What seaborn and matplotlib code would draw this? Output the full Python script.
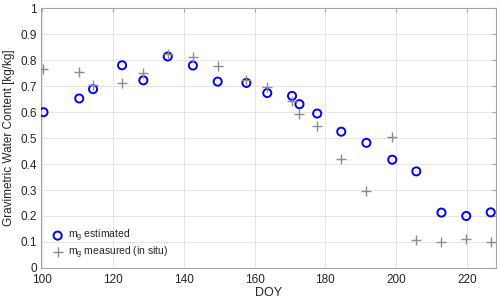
import numpy as np
import pandas as pd
import seaborn as sns
import matplotlib.pyplot as plt

# DOY of each acquisition
doy = [100.4, 110.5, 114.4, 122.6, 128.6, 135.5, 142.6, 149.6, 157.7, 163.6,
       170.6, 172.7, 177.7, 184.5, 191.6, 198.9, 205.7, 212.8, 219.8, 226.7]
# estimated gravimetric water content
mg_est = [0.600, 0.653, 0.689, 0.781, 0.723, 0.815, 0.780, 0.718, 0.713, 0.674,
          0.663, 0.631, 0.595, 0.525, 0.482, 0.417, 0.372, 0.213, 0.200, 0.214]
# measured in situ
mg_meas = [0.767, 0.757, 0.705, 0.714, 0.753, 0.825, 0.812, 0.777, 0.725, 0.699,
           0.645, 0.592, 0.547, 0.419, 0.298, 0.506, 0.106, 0.099, 0.111, 0.099]

df = pd.DataFrame({'doy': doy, 'est': mg_est, 'meas': mg_meas})

sns.set_style('white')
plt.rcParams['font.family'] = ['Liberation Sans', 'DejaVu Sans']
plt.rcParams['mathtext.fontset'] = 'custom'
plt.rcParams['mathtext.rm'] = 'Liberation Sans'
plt.rcParams['mathtext.it'] = 'Liberation Sans'

fig = plt.figure(figsize=(5, 3.03), dpi=100)
ax = fig.add_axes([0.082, 0.116, 0.910, 0.856])

sns.scatterplot(data=df, x='doy', y='est', ax=ax, marker='o', s=34,
                facecolors='none', edgecolor='#0000ff', linewidth=1.4,
                label=r'm$_\mathregular{g}$ estimated', zorder=3)
sns.scatterplot(data=df, x='doy', y='meas', ax=ax, marker='+', s=48,
                color='#8c8c8c', linewidth=1.0,
                label=r'm$_\mathregular{g}$ measured (in situ)', zorder=3)

yt = np.round(np.arange(0, 1.01, 0.1), 1)
ax.set_xlim(99.7, 228.2)
ax.set_ylim(0, 1)
ax.set_xticks(np.arange(100, 221, 20))
ax.set_yticks(yt)
ax.set_yticklabels([f'{v:g}' for v in yt])
ax.grid(True, color='#e6e6e6', linewidth=0.7)
ax.set_axisbelow(True)
for sp in ax.spines.values():
    sp.set_color('#a6a6a6')
    sp.set_linewidth(0.8)
ax.tick_params(direction='in', length=3, color='#a6a6a6', labelsize=8.5,
               labelcolor='#262626', top=True, right=True, pad=3)
ax.tick_params(axis='x', pad=4.5)
ax.set_xlabel('DOY', fontsize=9, color='#262626', labelpad=1)
ax.set_ylabel('Gravimetric Water Content [kg/kg]', fontsize=8.5, color='#262626', labelpad=4)

leg = ax.legend(loc='lower left', frameon=False, fontsize=7.5, handletextpad=0.1,
                borderaxespad=0.3, labelspacing=0.0, handlelength=1.8)

fig.savefig('out.png', dpi=100)
